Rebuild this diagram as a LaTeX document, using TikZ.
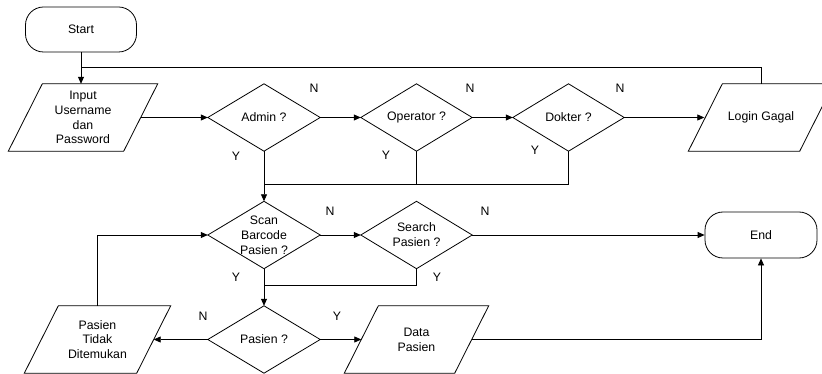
\documentclass[tikz,border=0pt]{standalone}
\usepackage{fontspec}
\setmainfont{Liberation Sans}
\usetikzlibrary{arrows.meta,calc}
\newcommand\diadraw[1]{\draw[shp] (#1.west)--(#1.north)--(#1.east)--(#1.south)--cycle;}
\newcommand\paradraw[1]{\draw[shp] ($(#1.north west)+(17,0)$)--($(#1.north east)+(17,0)$)--($(#1.south east)+(-17,0)$)--($(#1.south west)+(-17,0)$)--cycle;}
\begin{document}
\begin{tikzpicture}[x=1pt,y=-1pt,
  every node/.style={font=\fontsize{12.3}{14.8}\selectfont, align=center, inner sep=0pt},
  box/.style={minimum width=112pt, minimum height=67pt},
  term/.style={draw, line width=0.8pt, rounded corners=18pt, minimum width=111pt, minimum height=45pt},
  shp/.style={line width=0.8pt},
  ln/.style={line width=0.8pt},
  arr/.style={line width=0.8pt, -{Triangle[length=7pt,width=6pt]}},
  lbl/.style={}]
\useasboundingbox (0,0) rectangle (822,374);
\clip (0,0) rectangle (822,374);
% terminals
\node[term] (start) at (81,29.5) {Start};
\node[term, minimum width=112pt, minimum height=46pt] (end) at (761,235) {End};
% parallelograms
\node[box, minimum width=115pt] (inp) at (83,117.5) {Input\\Username\\dan\\Password};
\node[box, minimum width=111pt] (login) at (761,117.5) {Login Gagal};
\node[box] (ptd) at (97.5,339.5) {Pasien\\Tidak\\Ditemukan};
\node[box, minimum width=110pt] (dp) at (416.5,339.5) {Data\\Pasien};
\paradraw{inp}\paradraw{login}\paradraw{ptd}\paradraw{dp}
% diamonds
\node[box] (admin) at (264,117.5) {Admin ?};
\node[box, minimum width=111pt] (oper) at (416.5,117.5) {Operator ?};
\node[box, minimum width=111pt] (dok) at (568.5,117.5) {Dokter ?};
\node[box] (scan) at (264,235) {Scan\\Barcode\\Pasien ?};
\node[box, minimum width=111pt] (search) at (416.5,235) {Search\\Pasien ?};
\node[box] (pas) at (264,339.5) {Pasien ?};
\diadraw{admin}\diadraw{oper}\diadraw{dok}\diadraw{scan}\diadraw{search}\diadraw{pas}
% labels
\node (n1) at (314,88) {N};
\node (y1) at (236,156) {Y};
\node (n2) at (470,88) {N};
\node (y2) at (386,155) {Y};
\node (n3) at (620,88) {N};
\node (y3) at (535,150) {Y};
\node (n4) at (330,211) {N};
\node (y4) at (236,277) {Y};
\node (n5) at (485,211) {N};
\node (y5) at (437,277) {Y};
\node (n6) at (203,316) {N};
\node (y6) at (337,316) {Y};
% coordinates
\coordinate (top) at (81,67);
\coordinate (m1) at (264,184);
\coordinate (m2) at (264,285);
% connectors
\draw[arr] (start.south) -- (start.south |- inp.north);
\draw[ln] (login.north) |- (top);
\draw[arr] (inp.east) -- (admin.west);
\draw[arr] (admin.east) -- (oper.west);
\draw[arr] (oper.east) -- (dok.west);
\draw[arr] (dok.east) -- ($(login.west)+(-1,0)$);
\draw[ln] (admin.south) -- (m1);
\draw[ln] (oper.south) |- (m1);
\draw[ln] (dok.south) |- (m1);
\draw[arr] (m1) -- (scan.north);
\draw[arr] (scan.east) -- (search.west);
\draw[arr] (search.east) -- (end.west);
\draw[arr] (scan.south) -- (pas.north);
\draw[ln] (search.south) |- (m2);
\draw[arr] (pas.west) -- (ptd.east);
\draw[arr] (ptd.north) |- (scan.west);
\draw[arr] (pas.east) -- (dp.west);
\draw[arr] (dp.east) -| (end.south);
\end{tikzpicture}
\end{document}
